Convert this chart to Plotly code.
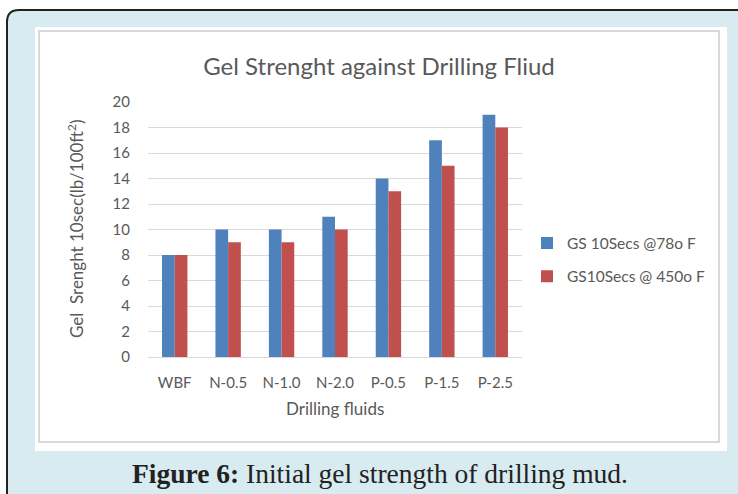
import plotly.graph_objects as go

categories = ["WBF", "N-0.5", "N-1.0", "N-2.0", "P-0.5", "P-1.5", "P-2.5"]
gs_78 = [8, 10, 10, 11, 14, 17, 19]
gs_450 = [8, 9, 9, 10, 13, 15, 18]
series_names = ["GS 10Secs @78o F", "GS10Secs @ 450o F"]
y_ticks = [0, 2, 4, 6, 8, 10, 12, 14, 16, 18, 20]

W, H = 738, 494
L, R, T, B = 148, 522, 102, 357  # plot area pixel box


def px(x):
    return (x - L) / (R - L)


def py(y):
    return (B - y) / (B - T)


FONT = "Lato"
GREY = "#595959"

fig = go.Figure()
fig.add_trace(go.Bar(x=categories, y=gs_78, name=series_names[0],
                     marker=dict(color="#4f81bd", line=dict(width=0)),
                     legendgroup="a"))
fig.add_trace(go.Bar(x=categories, y=gs_450, name=series_names[1],
                     marker=dict(color="#c0504d", line=dict(width=0)),
                     legendgroup="b"))

# outer rounded frame
r = 12
x0, y0, x1, y1 = 7, 10, 760, 520
path = (f"M {px(x0)},{py(y1)} L {px(x0)},{py(y0 + r)} "
        f"Q {px(x0)},{py(y0)} {px(x0 + r)},{py(y0)} L {px(x1)},{py(y0)} "
        f"L {px(x1)},{py(y1)} Z")
shapes = [
    dict(type="path", path=path, xref="paper", yref="paper",
         fillcolor="#d7ebf0", line=dict(color="#222222", width=2), layer="below"),
    dict(type="rect", xref="paper", yref="paper",
         x0=px(35), x1=px(727), y0=py(27), y1=py(451),
         fillcolor="white", line=dict(width=0), layer="below"),
    dict(type="rect", xref="paper", yref="paper",
         x0=px(39), x1=px(719), y0=py(31), y1=py(442),
         fillcolor="white", line=dict(color="#d9d9d9", width=2), layer="below"),
]

annotations = [
    dict(text="Gel\u00a0 Srenght 10sec(lb/100ft<sup>2</sup>)", textangle=-90,
         xref="paper", yref="paper", x=px(75), y=py(229),
         showarrow=False, font=dict(family=FONT, size=17, color=GREY),
         xanchor="center", yanchor="middle"),
    dict(text="Drilling fluids", xref="paper", yref="paper",
         x=px(335), y=py(408), showarrow=False,
         font=dict(family=FONT, size=17, color=GREY),
         xanchor="center", yanchor="middle"),
    dict(text="<b>Figure 6:</b> Initial gel strength of drilling mud.",
         xref="paper", yref="paper", x=px(380), y=py(473), showarrow=False,
         font=dict(family="Liberation Serif", size=27.5, color="#222222"),
         xanchor="center", yanchor="middle"),
]

fig.update_layout(
    width=W, height=H,
    margin=dict(l=L, r=W - R, t=T, b=H - B),
    paper_bgcolor="white",
    plot_bgcolor="rgba(0,0,0,0)",
    barmode="group",
    bargap=0.525,
    bargroupgap=0,
    title=dict(text="Gel Strenght against Drilling Fliud",
               x=379 / W, xref="container", xanchor="center",
               y=1 - 67 / H, yref="container", yanchor="middle",
               font=dict(family=FONT, size=24, color=GREY)),
    font=dict(family=FONT, color=GREY),
    shapes=shapes,
    annotations=annotations,
    legend=dict(x=px(527), y=py(260), xanchor="left", yanchor="middle",
                font=dict(family=FONT, size=15.5, color=GREY),
                traceorder="grouped", tracegroupgap=10,
                bgcolor="rgba(0,0,0,0)"),
    xaxis=dict(showgrid=False, showline=False, zeroline=False,
               ticks="outside", ticklen=12, tickcolor="rgba(0,0,0,0)",
               tickfont=dict(family=FONT, size=15, color=GREY)),
    yaxis=dict(range=[0, 20], tickvals=y_ticks, showgrid=True,
               gridcolor="#d9d9d9", gridwidth=1, zeroline=True,
               zerolinecolor="#d9d9d9", zerolinewidth=1, showline=False,
               ticks="outside", ticklen=14, tickcolor="rgba(0,0,0,0)",
               tickfont=dict(family=FONT, size=15, color=GREY)),
)

fig.write_html("out.html", config={"displayModeBar": False},
               post_script="document.body.style.margin='0';document.body.style.overflow='hidden';")
